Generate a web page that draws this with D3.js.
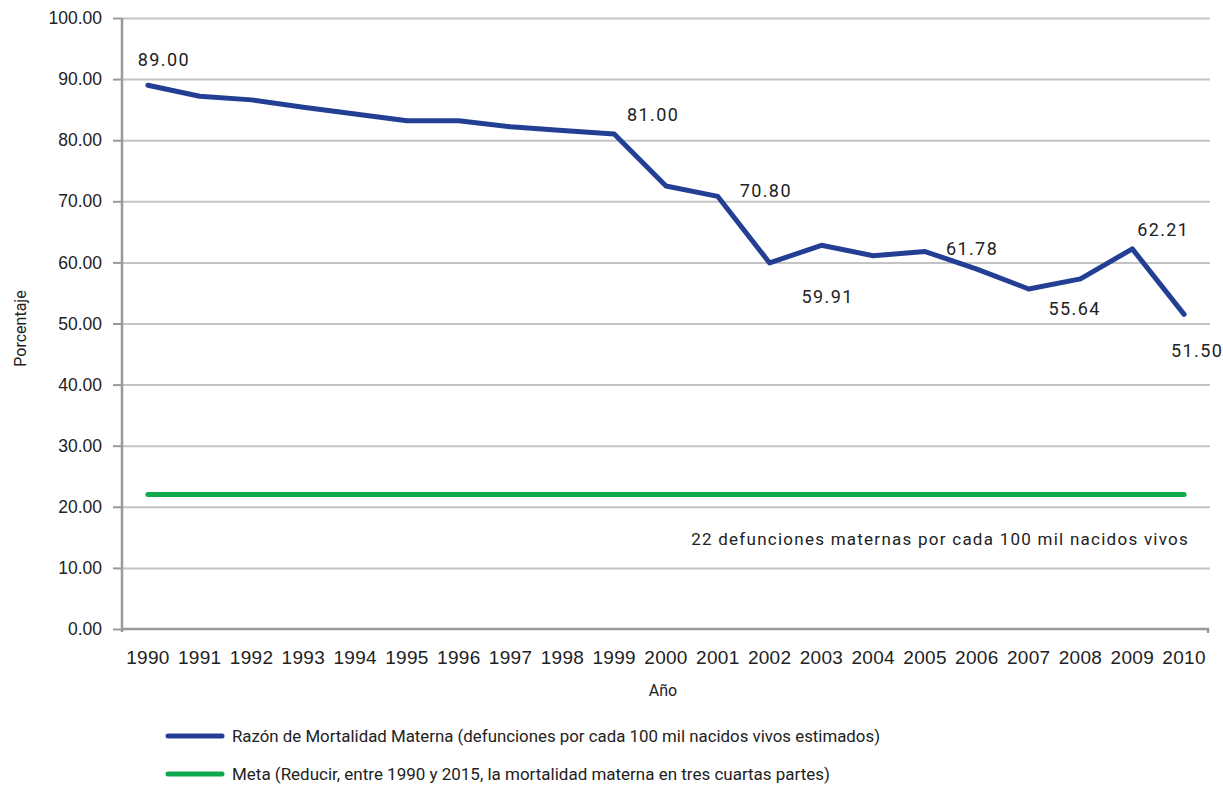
<!DOCTYPE html>
<html>
<head>
<meta charset="utf-8">
<script src="https://cdn.jsdelivr.net/npm/d3@7/dist/d3.min.js"></script>
<style>
  html, body { margin: 0; padding: 0; background: #fff; }
  svg { display: block; font-family: Roboto, "Open Sans", sans-serif; }
</style>
</head>
<body>
<svg id="chart" width="1223" height="785"></svg>
<script>
// ---- data ----
const years = ["1990","1991","1992","1993","1994","1995","1996","1997","1998","1999","2000",
               "2001","2002","2003","2004","2005","2006","2007","2008","2009","2010"];
const mortalidad = [89.00, 87.2, 86.6, 85.4, 84.3, 83.2, 83.2, 82.2, 81.6, 81.00, 72.5,
                    70.80, 59.91, 62.8, 61.1, 61.78, 58.9, 55.64, 57.3, 62.21, 51.50];
const meta = years.map(() => 22);
const yTicks = [0,10,20,30,40,50,60,70,80,90,100];
const labeledYears = ["1990","1999","2001","2002","2005","2007","2009","2010"];
const seriesNames = [
  "Razón de Mortalidad Materna (defunciones por cada 100 mil nacidos vivos estimados)",
  "Meta (Reducir, entre 1990 y 2015, la mortalidad materna en tres cuartas partes)"
];
const metaNote = "22 defunciones maternas por cada 100 mil nacidos vivos";

// ---- layout (kept apart from data) ----
const labelOffsets = { // pixel offsets of label centre from point
  "1990": [16, -26], "1999": [39, -20], "2001": [48, -6], "2002": [58, 34],
  "2005": [47, -3], "2007": [46, 19], "2009": [31, -19], "2010": [13, 36]
};
const M = { left: 122, right: 1210, top: 18, bottom: 629 };
const BLUE = "#233f94", GREEN = "#0ea94c", GRID = "#c4c4c4", AXIS = "#9a9a9a", TXT = "#222";

const svg = d3.select("#chart");
const x = d3.scaleBand().domain(years).range([M.left, M.right]);
const cx = d => x(d) + x.bandwidth() / 2;
const y = d3.scaleLinear().domain([0, 100]).range([M.bottom, M.top]);

// gridlines
svg.append("g")
  .attr("transform", `translate(${M.left},0)`)
  .call(d3.axisLeft(y).tickValues(yTicks.filter(t => t > 0)).tickSize(-(M.right - M.left)).tickFormat(""))
  .call(g => g.select(".domain").remove())
  .call(g => g.selectAll("line").attr("stroke", GRID).attr("stroke-width", 2));

// y axis
svg.append("g")
  .attr("transform", `translate(${M.left},0)`)
  .call(d3.axisLeft(y).tickValues(yTicks).tickSize(9).tickPadding(11).tickFormat(d3.format(".2f")))
  .call(g => g.select(".domain").attr("stroke", AXIS).attr("stroke-width", 2.5)
               .attr("d", `M0,${M.top}V${M.bottom + 3}`))
  .call(g => g.selectAll("line").attr("stroke", AXIS).attr("stroke-width", 2))
  .call(g => g.selectAll("text").attr("fill", TXT).style("font-size", "17.5px"));

// x axis
svg.append("g")
  .attr("transform", `translate(0,${M.bottom})`)
  .call(d3.axisBottom(x).tickSize(0).tickPadding(22))
  .call(g => g.select(".domain").attr("stroke", AXIS).attr("stroke-width", 2.5)
               .attr("d", `M${M.left},0H${M.right - 2}V4`))
  .call(g => g.selectAll("text").attr("fill", TXT).style("font-size", "19px").style("letter-spacing", "0.3px"));

// lines
const line = d3.line().x((d, i) => cx(years[i])).y(d => y(d));
svg.append("path").datum(meta).attr("d", line)
  .attr("fill", "none").attr("stroke", GREEN).attr("stroke-width", 5)
  .attr("stroke-linecap", "round").attr("stroke-linejoin", "round");
svg.append("path").datum(mortalidad).attr("d", line)
  .attr("fill", "none").attr("stroke", BLUE).attr("stroke-width", 5)
  .attr("stroke-linecap", "round").attr("stroke-linejoin", "round");

// data labels
svg.append("g").selectAll("text").data(labeledYears).join("text")
  .attr("x", d => cx(d) + labelOffsets[d][0])
  .attr("y", d => y(mortalidad[years.indexOf(d)]) + labelOffsets[d][1])
  .attr("text-anchor", "middle").attr("dominant-baseline", "central")
  .attr("fill", TXT).style("font-size", "18px").style("letter-spacing", "1.4px")
  .text(d => d3.format(".2f")(mortalidad[years.indexOf(d)]));

// meta note
svg.append("text")
  .attr("x", cx(years[years.length - 1]) + 5).attr("y", y(22) + 44)
  .attr("text-anchor", "end").attr("dominant-baseline", "central")
  .attr("fill", TXT).style("font-size", "17px").style("letter-spacing", "1.25px")
  .text(metaNote);

// axis titles
svg.append("text").attr("x", (M.left + M.right) / 2 - 3).attr("y", 690)
  .attr("text-anchor", "middle").attr("dominant-baseline", "central")
  .attr("fill", TXT).style("font-size", "16px").text("Año");
svg.append("text").attr("transform", `translate(20,${(M.top + M.bottom) / 2 + 5}) rotate(-90)`)
  .attr("text-anchor", "middle").attr("dominant-baseline", "central")
  .attr("fill", TXT).style("font-size", "16px").text("Porcentaje");

// legend
const legend = svg.append("g").selectAll("g").data(seriesNames).join("g")
  .attr("transform", (d, i) => `translate(168,${736 + i * 38})`);
legend.append("line").attr("x1", 0).attr("x2", 54).attr("y1", 0).attr("y2", 0)
  .attr("stroke", (d, i) => i === 0 ? BLUE : GREEN).attr("stroke-width", 5).attr("stroke-linecap", "round");
legend.append("text").attr("x", 64).attr("y", 0).attr("dominant-baseline", "central")
  .attr("fill", TXT).style("font-size", "16.5px")
  .attr("textLength", (d, i) => i === 0 ? 648 : 598).attr("lengthAdjust", "spacingAndGlyphs")
  .text(d => d);
</script>
</body>
</html>
